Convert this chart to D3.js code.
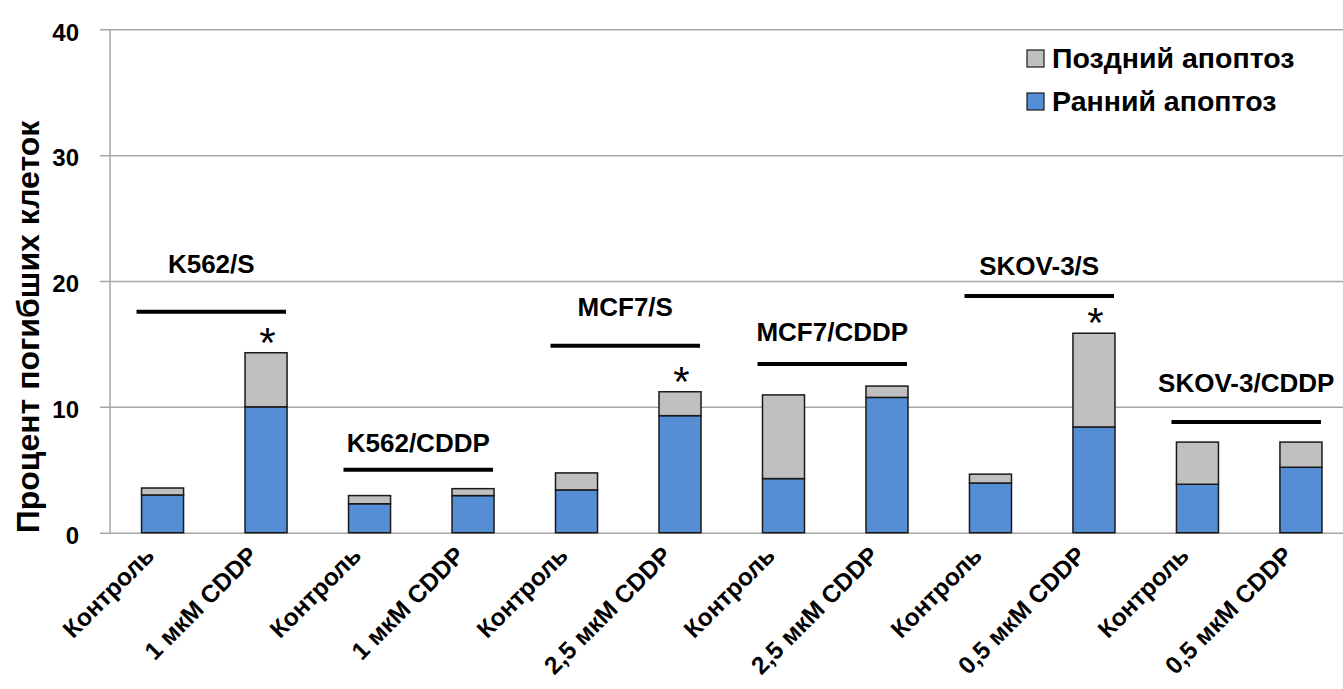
<!DOCTYPE html>
<html>
<head>
<meta charset="utf-8">
<script src="https://cdn.jsdelivr.net/npm/d3@7"></script>
<style>
	body { margin: 0; background: #fff; }
	svg text { font-family: "Liberation Sans", Arial, sans-serif; }
</style>
</head>
<body>
<svg id="chart" width="1343" height="689"></svg>
<script>
// categories along the x axis
const categories = ["Контроль", "1 мкМ CDDP", "Контроль", "1 мкМ CDDP", "Контроль", "2,5 мкМ CDDP",
	"Контроль", "2,5 мкМ CDDP", "Контроль", "0,5 мкМ CDDP", "Контроль", "0,5 мкМ CDDP"];
// early apoptosis (blue, bottom) and late apoptosis (grey, on top), percent
const earlyApoptosis = [3.0, 10.0, 2.3, 2.95, 3.4, 9.3, 4.3, 10.75, 3.95, 8.4, 3.85, 5.2];
const lateApoptosis = [0.55, 4.3, 0.65, 0.55, 1.35, 1.9, 6.65, 0.9, 0.7, 7.45, 3.35, 2.0];
const seriesNames = ["Поздний апоптоз", "Ранний апоптоз"];
const yTicks = [0, 10, 20, 30, 40];

// cell line groups: two bars each, with bracket level and label level (in %)
const groupNames = ["K562/S", "K562/CDDP", "MCF7/S", "MCF7/CDDP", "SKOV-3/S", "SKOV-3/CDDP"];
const groupLineLevel = [17.55, 5.0, 14.85, 13.4, 18.8, 8.8];
const groupLabelLevel = [20.6, 6.45, 17.25, 15.2, 20.5, 11.2];
// bars marked with *
const significant = [1, 5, 9];

const WIDTH = 1343;
const AXIS_X = 110;
const BLUE = "#558ed5";
const GREY = "#c0c0c0";
const GRID = "#a6a6a6";

let svg = d3.select("svg#chart");

let x = d3.scaleBand()
	.domain(d3.range(categories.length))
	.range([AXIS_X + 0.5, 1353])
	.paddingInner(0.594)
	.paddingOuter(0.3)
	;
let y = d3.scaleLinear()
	.domain([0, 40])
	.range([532.7, 29.3])
	;

// y axis with gridlines across the plot
let yAxis = svg.append("g")
	.attr("transform", "translate(" + AXIS_X + ",0)")
	.call(d3.axisLeft(y).tickValues(yTicks).tickSize(-(WIDTH - AXIS_X)).tickPadding(31))
	;
yAxis.select(".domain").remove();
yAxis.selectAll(".tick line")
	.attr("x1", -10)
	.attr("stroke", GRID)
	.attr("stroke-width", 1.5)
	;
yAxis.selectAll(".tick text")
	.attr("dy", "0.45em")
	.attr("font-size", 24)
	.attr("font-weight", "bold")
	.attr("fill", "#000")
	;
svg.append("line")
	.attr("x1", AXIS_X)
	.attr("x2", AXIS_X)
	.attr("y1", y(40))
	.attr("y2", y(0))
	.attr("stroke", GRID)
	.attr("stroke-width", 1.5)
	;

// y axis title
svg.append("text")
	.text("Процент погибших клеток")
	.attr("transform", "translate(39,327) rotate(-90)")
	.attr("text-anchor", "middle")
	.attr("font-size", 32)
	.attr("font-weight", "bold")
	;

// stacked bars
let bars = svg.append("g");
bars.selectAll("rect.early")
	.data(earlyApoptosis)
	.join("rect")
	.attr("class", "early")
	.attr("x", (d, i) => x(i))
	.attr("y", d => y(d))
	.attr("width", x.bandwidth())
	.attr("height", d => y(0) - y(d))
	.attr("fill", BLUE)
	.attr("stroke", "#1a1a1a")
	.attr("stroke-width", 1.5)
	;
bars.selectAll("rect.late")
	.data(lateApoptosis)
	.join("rect")
	.attr("class", "late")
	.attr("x", (d, i) => x(i))
	.attr("y", (d, i) => y(earlyApoptosis[i] + d))
	.attr("width", x.bandwidth())
	.attr("height", (d, i) => y(earlyApoptosis[i]) - y(earlyApoptosis[i] + d))
	.attr("fill", GREY)
	.attr("stroke", "#1a1a1a")
	.attr("stroke-width", 1.5)
	;

// x labels, rotated
svg.append("g")
	.selectAll("text")
	.data(categories)
	.join("text")
	.text(d => d)
	.attr("transform", (d, i) => "translate(" + (x(i) + x.bandwidth() / 2 - 7) + ",557) rotate(-45)")
	.attr("text-anchor", "end")
	.attr("font-size", 24.5)
	.attr("font-weight", "bold")
	;

// significance marks
svg.append("g")
	.selectAll("text")
	.data(significant)
	.join("text")
	.text("*")
	.attr("x", i => x(i) + x.bandwidth() / 2 + 1.5)
	.attr("y", i => y(earlyApoptosis[i] + lateApoptosis[i]) + 4)
	.attr("text-anchor", "middle")
	.attr("font-size", 42)
	;

// group brackets and labels
let groups = svg.append("g");
groupNames.forEach((name, g) => {
	let a = 2 * g, b = 2 * g + 1;
	let x1 = x(a) - 5;
	let x2 = x(b) + x.bandwidth() - 1;
	groups.append("line")
		.attr("x1", x1)
		.attr("x2", x2)
		.attr("y1", y(groupLineLevel[g]))
		.attr("y2", y(groupLineLevel[g]))
		.attr("stroke", "#000")
		.attr("stroke-width", 4)
		;
	groups.append("text")
		.text(name)
		.attr("x", (x1 + x2) / 2)
		.attr("y", y(groupLabelLevel[g]))
		.attr("text-anchor", "middle")
		.attr("font-size", 26)
		.attr("font-weight", "bold")
		;
});

// legend
let legend = svg.append("g")
	.selectAll("g")
	.data(seriesNames)
	.join("g")
	.attr("transform", (d, i) => "translate(1027," + (50 + i * 43) + ")")
	;
legend.append("rect")
	.attr("width", 17)
	.attr("height", 17)
	.attr("fill", (d, i) => i === 0 ? GREY : BLUE)
	.attr("stroke", "#1a1a1a")
	.attr("stroke-width", 1.2)
	;
legend.append("text")
	.text(d => d)
	.attr("x", 25)
	.attr("y", 18)
	.attr("font-size", 28.5)
	.attr("font-weight", "bold")
	;
</script>
</body>
</html>
